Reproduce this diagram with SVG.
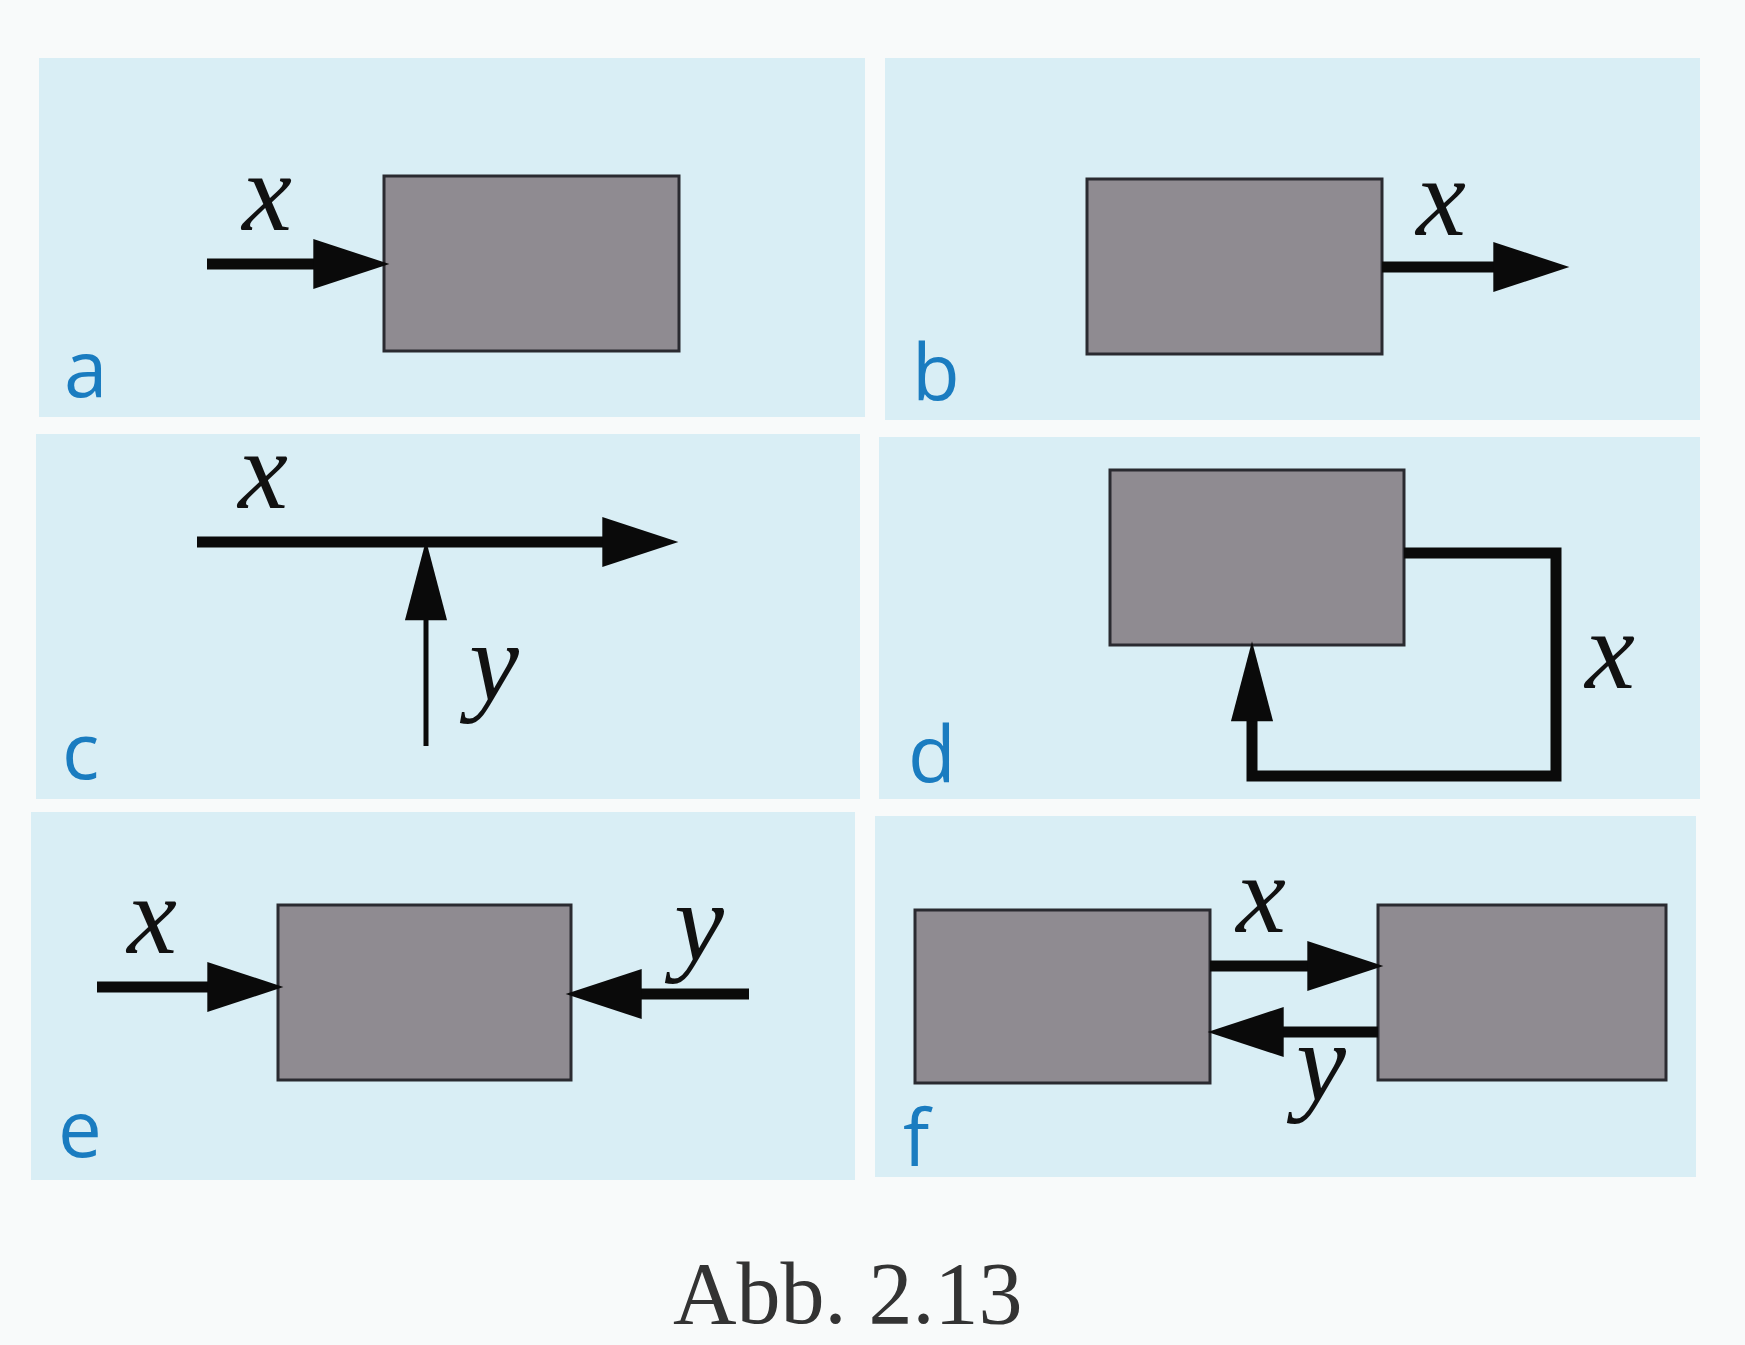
<svg xmlns="http://www.w3.org/2000/svg" width="1745" height="1345" viewBox="0 0 1745 1345">
<style>
.panel{fill:#d9eef5}
.box{fill:#8f8b91;stroke:#2a2a30;stroke-width:3}
.line{stroke:#0a0a0a;stroke-width:11;fill:none}
.thin{stroke:#0a0a0a;stroke-width:5;fill:none}
.var{font-family:"Liberation Serif",serif;font-style:italic;font-size:112px;fill:#111;text-anchor:middle}
.tag{font-family:"Open Sans","Noto Sans",sans-serif;font-size:78px;fill:#1a7cc0}
.cap{font-family:"Liberation Serif",serif;font-size:88px;fill:#333}
</style>
<defs>
<marker id="ah" markerUnits="userSpaceOnUse" markerWidth="80" markerHeight="50" viewBox="0 0 70 46" refX="8" refY="23" orient="auto" overflow="visible">
<path d="M0,0 L70,23 L0,46 z" fill="#0a0a0a"/>
</marker>
<marker id="ahs" markerUnits="userSpaceOnUse" markerWidth="80" markerHeight="44" viewBox="0 0 76 40" refX="4" refY="20" orient="auto" overflow="visible">
<path d="M0,0 L76,20 L0,40 z" fill="#0a0a0a"/>
</marker>
</defs>
<rect width="1745" height="1345" fill="#f8fafa"/>
<g id="panels">
<rect class="panel" x="39" y="58" width="826" height="359"/>
<rect class="panel" x="885" y="58" width="815" height="362"/>
<rect class="panel" x="36" y="434" width="824" height="365"/>
<rect class="panel" x="879" y="437" width="821" height="362"/>
<rect class="panel" x="31" y="812" width="824" height="368"/>
<rect class="panel" x="875" y="816" width="821" height="361"/>
</g>
<g id="node-a"><rect class="box" x="384" y="176" width="295" height="175"/></g>
<g id="node-b"><rect class="box" x="1087" y="179" width="295" height="175"/></g>
<g id="node-d"><rect class="box" x="1110" y="470" width="294" height="175"/></g>
<g id="node-e"><rect class="box" x="278" y="905" width="293" height="175"/></g>
<g id="node-f1"><rect class="box" x="915" y="910" width="295" height="173"/></g>
<g id="node-f2"><rect class="box" x="1378" y="905" width="288" height="175"/></g>
<g id="connectors">
<path class="line" d="M207,264 L322,264" marker-end="url(#ah)"/>
<path class="line" d="M1382,267 L1502,267" marker-end="url(#ah)"/>
<path class="line" d="M197,542 L611,542" marker-end="url(#ah)"/>
<path class="thin" d="M426,746 L426,616" marker-end="url(#ahs)"/>
<path class="line" d="M1404,553 L1556,553 L1556,776 L1252,776 L1252,717" marker-end="url(#ahs)"/>
<path class="line" d="M97,987 L216,987" marker-end="url(#ah)"/>
<path class="line" d="M749,994 L633,994" marker-end="url(#ah)"/>
<path class="line" d="M1210,966 L1316,966" marker-end="url(#ah)"/>
<path class="line" d="M1378,1032 L1275,1032" marker-end="url(#ah)"/>
</g>
<g id="labels">
<text class="var" x="267" y="230">x</text>
<text class="var" x="1441" y="235">x</text>
<text class="var" x="263" y="508">x</text>
<text class="var" x="494" y="700">y</text>
<text class="var" x="1610" y="688">x</text>
<text class="var" x="152" y="953">x</text>
<text class="var" x="699" y="960">y</text>
<text class="var" x="1261" y="932">x</text>
<text class="var" x="1321" y="1100">y</text>
<text class="tag" x="64" y="397">a</text>
<text class="tag" x="912" y="400">b</text>
<text class="tag" x="62" y="779">c</text>
<text class="tag" x="908" y="782">d</text>
<text class="tag" x="58" y="1157">e</text>
<text class="tag" x="903" y="1166">f</text>
<text class="cap" x="673" y="1323">Abb. 2.13</text>
</g>
</svg>
